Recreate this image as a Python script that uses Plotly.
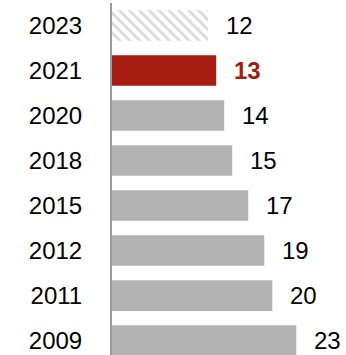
import plotly.graph_objects as go

years = ["2023", "2021", "2020", "2018", "2015", "2012", "2011", "2009"]
values = [12, 13, 14, 15, 17, 19, 20, 23]
bar_colors = ["#d9d9d9", "#a61c10", "#b3b3b3", "#b3b3b3", "#b3b3b3", "#b3b3b3", "#b3b3b3", "#b3b3b3"]
patterns = ["\\", "", "", "", "", "", "", ""]
label_colors = ["#000000", "#a61c10", "#000000", "#000000", "#000000", "#000000", "#000000", "#000000"]
label_bold = [False, True, False, False, False, False, False, False]

FONT = "Liberation Sans, Arial"

fig = go.Figure()
fig.add_trace(go.Bar(
    y=years, x=values, orientation="h",
    marker=dict(
        color=bar_colors,
        line=dict(width=0),
        pattern=dict(shape=patterns, fgcolor="#b5b5b5", bgcolor="#ffffff",
                     size=7, solidity=0.4, fillmode="replace"),
    ),
    width=0.68,
    hoverinfo="skip",
))

for i, (v, c, b) in enumerate(zip(values, label_colors, label_bold)):
    fig.add_annotation(
        x=v, y=i, xref="x", yref="y", xanchor="left", yanchor="middle",
        xshift=16, yshift=0, showarrow=False,
        text=f"<b>{v}</b>" if b else str(v),
        font=dict(family=FONT, size=24, color=c),
    )

fig.update_layout(
    width=346, height=355,
    margin=dict(l=112, r=0, t=3, b=0),
    paper_bgcolor="white", plot_bgcolor="white",
    showlegend=False,
    xaxis=dict(range=[0, 29.2], visible=False, fixedrange=True),
    yaxis=dict(
        type="category", categoryorder="array", categoryarray=years,
        range=[7.32, -0.5],
        showline=True, linecolor="#999999", linewidth=2,
        showgrid=False, zeroline=False, ticks="",
        ticklabelstandoff=23,
        tickfont=dict(family=FONT, size=24, color="#000000"),
    ),
)

fig.write_html("out.html", config={"displayModeBar": False},
               post_script="document.body.style.margin='0';document.body.style.padding='0';")
